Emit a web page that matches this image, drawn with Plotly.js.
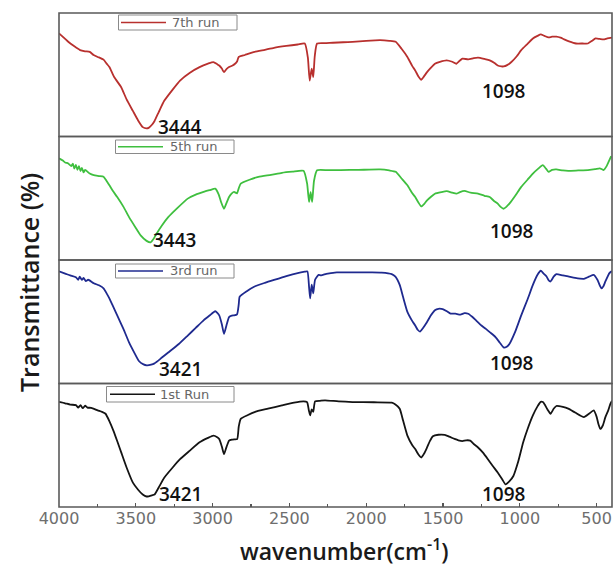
<!DOCTYPE html>
<html>
<head>
<meta charset="utf-8">
<script src="https://cdn.plot.ly/plotly-3.0.1.min.js"></script>
<style>html,body{margin:0;padding:0;background:#fff;}#chart{width:614px;height:570px;}</style>
</head>
<body>
<div id="chart"></div>
<script>
// ---- data (y = relative transmittance within each panel, 0-100) ----
const seriesNames = ['1st Run', '3rd run', '5th run', '7th run'];
const peakLabels = [['3421', '1098'], ['3421', '1098'], ['3443', '1098'], ['3444', '1098']];
const xTickVals = [4000, 3500, 3000, 2500, 2000, 1500, 1000, 500];
const xTickText = ['4000', '3500', '3000', '2500', '2000', '1500', '1000', '500'];

const wn7 = [4000,3960,3940,3900,3863,3830,3800,3775,3748,3730,3710,3690,3672,3640,3595,3560,3519,3485,3455,3430,3416,3395,3378,3350,3315,3260,3212,3150,3085,3030,2995,2970,2957,2940,2926,2910,2893,2870,2854,2840,2830,2790,2727,2660,2600,2520,2446,2400,2380,2368,2355,2345,2335,2320,2260,2217,2150,2089,2000,1910,1850,1808,1770,1732,1700,1681,1660,1642,1625,1604,1580,1553,1520,1476,1440,1413,1390,1374,1336,1300,1272,1230,1196,1165,1144,1120,1106,1080,1055,1020,991,950,915,885,864,840,813,790,762,735,711,680,634,590,557,530,507,480,455,430,400];
const t7  = [83.5,79,76.7,73,70,69,68.5,66,64.4,63.5,62.2,59,56.2,48,39.9,30,20.7,13,7.6,6.5,7.0,9.5,12.6,20,28.9,38,45.3,51.5,56.2,59,60.3,58.5,57.5,55,52.1,54.5,56.2,57.5,58.9,61,64.4,66,68.5,70.2,71.8,73.3,74.5,75.3,64,45.3,55,48,65,75.3,75.6,75.9,76.3,76.7,77.5,78,77.5,76.7,71,64.4,57,53.5,48.5,45.9,48.5,52.1,55.5,58.9,60.5,61.7,60.5,58.9,61.5,63,62.5,63.5,63.9,62.8,61.7,59.5,57.5,56.8,56.7,58,60.3,65,69.9,75,79.4,81.5,82.7,81.5,80.2,80.8,80.8,80,78.6,77,75.3,75.3,75.3,77.5,79.4,79,78.6,79.5,80];

const wn5 = [4000,3975,3960,3940,3920,3910,3900,3890,3880,3870,3860,3851,3840,3830,3800,3774,3740,3710,3690,3672,3650,3621,3580,3544,3500,3467,3430,3404,3385,3366,3330,3289,3230,3162,3110,3059,3020,2983,2960,2945,2926,2910,2893,2875,2860,2841,2830,2817,2760,2702,2620,2549,2480,2408,2385,2372,2362,2352,2340,2320,2250,2166,2050,1910,1850,1808,1770,1732,1700,1681,1660,1642,1622,1604,1580,1553,1510,1476,1440,1413,1390,1361,1320,1272,1230,1196,1170,1144,1125,1106,1088,1068,1030,991,950,915,880,851,830,813,790,762,720,685,620,557,510,481,465,455,435,417,405];
const t5  = [82.3,80.5,79,78.2,76,78,74,77,73,76,72,74.5,71,73,70,68.7,68,67.4,64,60.5,56,51,43,34.7,26,19.7,15.5,14.3,17,21.1,28,34.7,42,49.7,53,55.1,56.5,57.8,53,47,41.5,46,51,54,55.1,54,58,61.9,65,67.4,69,70.6,71.5,72.2,62,47,55,47,64,72.6,72.7,72.8,73,73.3,72.5,71.4,66,60.5,54,51,46.5,43.4,45.5,48.3,51,53.7,55,55.7,54.5,53.7,55,55.9,54.5,53.7,52,51,48,45.6,43,41.5,43,45.6,52,59.2,65,70,74,76.8,74,71.4,73,73.3,72.5,72.2,72.5,72.8,73.5,74.2,73.5,72.8,76,80.9,84];

const wn3 = [4000,3960,3927,3890,3875,3865,3851,3840,3825,3810,3774,3740,3710,3690,3672,3650,3621,3580,3544,3510,3480,3450,3429,3400,3378,3330,3289,3220,3162,3110,3059,3020,2983,2957,2940,2926,2910,2893,2875,2860,2841,2830,2824,2780,2727,2660,2600,2520,2446,2400,2383,2372,2365,2355,2345,2333,2310,2294,2260,2230,2191,2100,1962,1900,1834,1810,1782,1760,1732,1700,1681,1665,1650,1630,1604,1580,1553,1530,1502,1475,1451,1420,1387,1360,1336,1310,1285,1250,1221,1190,1157,1130,1106,1088,1068,1030,991,950,915,885,864,845,826,812,800,780,762,720,685,640,583,550,519,495,478,468,455,443,417,400];
const t3  = [90.8,89,87.5,86,84,86.5,83.9,85.5,83,84,81.2,79.5,77.1,73,68.9,63,55.2,44,33.3,25,18.2,15.5,14.7,15.2,16.3,21,25.1,32,38.8,45,51.1,55,58.5,55.2,48,40.2,47,53.8,55,55.2,56,64,70.2,74.5,78.5,81.5,83.9,87,89.4,90.5,90.8,78,68.9,80,73,84,88,87.5,88.8,89.4,90,90,90,89.8,88.6,86.5,79.8,70,58,50.5,47,43.5,42,45,49.8,55,59.3,60.5,60.2,58.5,56.6,56.5,55.8,57,56.5,54,51.1,47,44.2,41,37.4,33,29.2,29.5,32,42,55.2,68,79.8,88,91.3,89,86.7,83.5,82.6,86.5,88.6,87.5,86.7,85.5,84.8,86.5,88,84,79,77.1,79,82.6,89.4,91];

const wn1 = [4000,3960,3927,3890,3875,3860,3845,3830,3815,3790,3748,3720,3697,3670,3646,3620,3595,3560,3519,3485,3455,3430,3416,3395,3378,3350,3315,3260,3212,3150,3085,3030,2995,2970,2957,2940,2926,2910,2893,2875,2860,2840,2830,2817,2770,2727,2640,2549,2470,2408,2385,2373,2365,2355,2345,2333,2300,2268,2180,2089,1950,1834,1810,1782,1760,1732,1700,1681,1660,1642,1622,1604,1585,1566,1530,1489,1460,1425,1400,1374,1350,1323,1300,1272,1240,1208,1175,1144,1115,1093,1070,1042,1010,978,950,915,885,864,850,838,820,800,780,762,720,685,640,583,550,519,500,488,476,460,443,425,410,400];
const t1  = [85.1,84,82.9,82.5,80.5,82.5,80,82,80.5,80.3,78.2,77,75.5,69,61.9,53,44.2,32,19.7,14,10.1,8.5,8.7,9.5,10.1,16,23.7,32,38.7,45.5,52.4,56,57.8,56.5,55,49,42.8,48.5,53.7,54.5,54.8,55,65,71.4,74.5,76.9,79.6,82.3,84.5,85.6,85,78,74.2,79,77,85.5,86,86.4,85.5,85,84.8,84.5,83,79.6,70,57.8,50,46.9,42.5,40.1,43.5,48.2,53.5,57.3,58.5,58.4,57,55.1,54,53.4,54,53.8,51,48.2,44,38.7,33,27.9,22.5,18.3,20.5,25.1,37,52.4,63,74.2,81.5,85.1,85,83,79,75.5,79.5,81.8,81,79.6,76.5,72.8,75.5,78.2,73,67,63.2,66,72.8,78,83.7,86];

const seriesX = [wn1, wn3, wn5, wn7];
const seriesY = [t1, t3, t5, t7];
const seriesColors = ['#141414', '#1f2a8f', '#3fbf3f', '#b8302e'];

// ---- layout helpers ----
const W = 614, H = 570;
const M = {l: 59, r: 2, t: 13, b: 63};
const pw = W - M.l - M.r, ph = H - M.t - M.b;
const px2x = p => (p - M.l) / pw;            // pixel -> paper x
const py2y = p => (H - M.b - p) / ph;          // pixel -> paper y

const axisNames = ['y', 'y2', 'y3', 'y4'];
const domains = [[0, 0.25], [0.25, 0.5], [0.5, 0.75], [0.75, 1]];

const traces = seriesX.map((xs, i) => ({
  type: 'scatter', mode: 'lines',
  x: xs, y: seriesY[i], name: seriesNames[i],
  xaxis: 'x', yaxis: axisNames[i],
  line: {color: seriesColors[i], width: 1.8, shape: 'spline', smoothing: 0.5},
  showlegend: false, hoverinfo: 'skip'
}));

const shapes = [];
const annotations = [];

// panel frames
domains.forEach(d => {
  shapes.push({type: 'rect', xref: 'paper', yref: 'paper', x0: 0, x1: 1, y0: d[0], y1: d[1],
    line: {color: '#5a5a5a', width: 1.6}, layer: 'above'});
});

// legend boxes (pixel boxes per panel: [x0, x1, yTop, yBottom, lineX0, lineX1, textX])
const legendBoxes = [
  [106.5, 234, 386.5, 402, 110, 155, 158],
  [115.5, 234, 264, 278, 118, 163, 168],
  [115.5, 234, 140, 153.5, 118, 163, 168],
  [118.5, 237, 15, 30, 121, 166, 170]
];
legendBoxes.forEach((b, i) => {
  shapes.push({type: 'rect', xref: 'paper', yref: 'paper',
    x0: px2x(b[0]), x1: px2x(b[1]), y0: py2y(b[3]), y1: py2y(b[2]),
    line: {color: '#8a8a8a', width: 1}, fillcolor: 'rgba(255,255,255,0)'});
  const ym = py2y((b[2] + b[3]) / 2);
  shapes.push({type: 'line', xref: 'paper', yref: 'paper',
    x0: px2x(b[4]), x1: px2x(b[5]), y0: ym, y1: ym,
    line: {color: seriesColors[i], width: 1.6}});
  annotations.push({xref: 'paper', yref: 'paper', x: px2x(b[6]), y: ym,
    xanchor: 'left', yanchor: 'middle', showarrow: false, text: seriesNames[i],
    font: {family: 'DejaVu Sans', size: 13, color: '#666'}});
});

// peak labels: [wavenumber position, panel value position]
const labelPos = [
  [[3206, 10.5], [1100, 10.5]],
  [[3212, 11.8], [1048, 16.7]],
  [[3251, 16.6], [1048, 23.8]],
  [[3212, 7.9], [1100, 37]]
];
labelPos.forEach((pair, i) => {
  pair.forEach((p, j) => {
    annotations.push({xref: 'x', yref: axisNames[i], x: p[0], y: p[1],
      xanchor: 'center', yanchor: 'middle', showarrow: false, text: peakLabels[i][j],
      font: {family: 'Open Sans', size: 19, color: '#111', weight: 600}});
  });
});

// axis titles
annotations.push({xref: 'paper', yref: 'paper', x: px2x(29), y: py2y(283),
  xanchor: 'center', yanchor: 'middle', showarrow: false, textangle: -90,
  text: 'Transmittance (%)',
  font: {family: 'Open Sans', size: 25, color: '#1a1a1a', weight: 600}});
annotations.push({xref: 'paper', yref: 'paper', x: px2x(344), y: py2y(550),
  xanchor: 'center', yanchor: 'middle', showarrow: false,
  text: 'wavenumber(cm<sup>-1</sup>)',
  font: {family: 'Open Sans', size: 23, color: '#1a1a1a', weight: 600}});

const layout = {
  width: W, height: H,
  margin: M,
  paper_bgcolor: '#fff', plot_bgcolor: '#fff',
  showlegend: false,
  xaxis: {
    range: [4000, 400], anchor: 'y',
    tickmode: 'array', tickvals: xTickVals, ticktext: xTickText,
    ticks: 'inside', ticklen: 4, tickwidth: 1.3, tickcolor: '#555',
    minor: {dtick: 250, tick0: 0, ticks: 'inside', ticklen: 3, tickwidth: 1.2, tickcolor: '#555'},
    showgrid: false, zeroline: false, showline: false,
    tickfont: {family: 'DejaVu Sans', size: 16, color: '#6e6e6e'}
  },
  shapes: shapes,
  annotations: annotations
};
axisNames.forEach((a, i) => {
  const key = i === 0 ? 'yaxis' : 'yaxis' + (i + 1);
  layout[key] = {domain: domains[i], range: [0, 100], anchor: 'x',
    showticklabels: false, ticks: '', showgrid: false, zeroline: false, showline: false, fixedrange: true};
});

Plotly.newPlot('chart', traces, layout, {staticPlot: true, displayModeBar: false});
</script>
</body>
</html>
